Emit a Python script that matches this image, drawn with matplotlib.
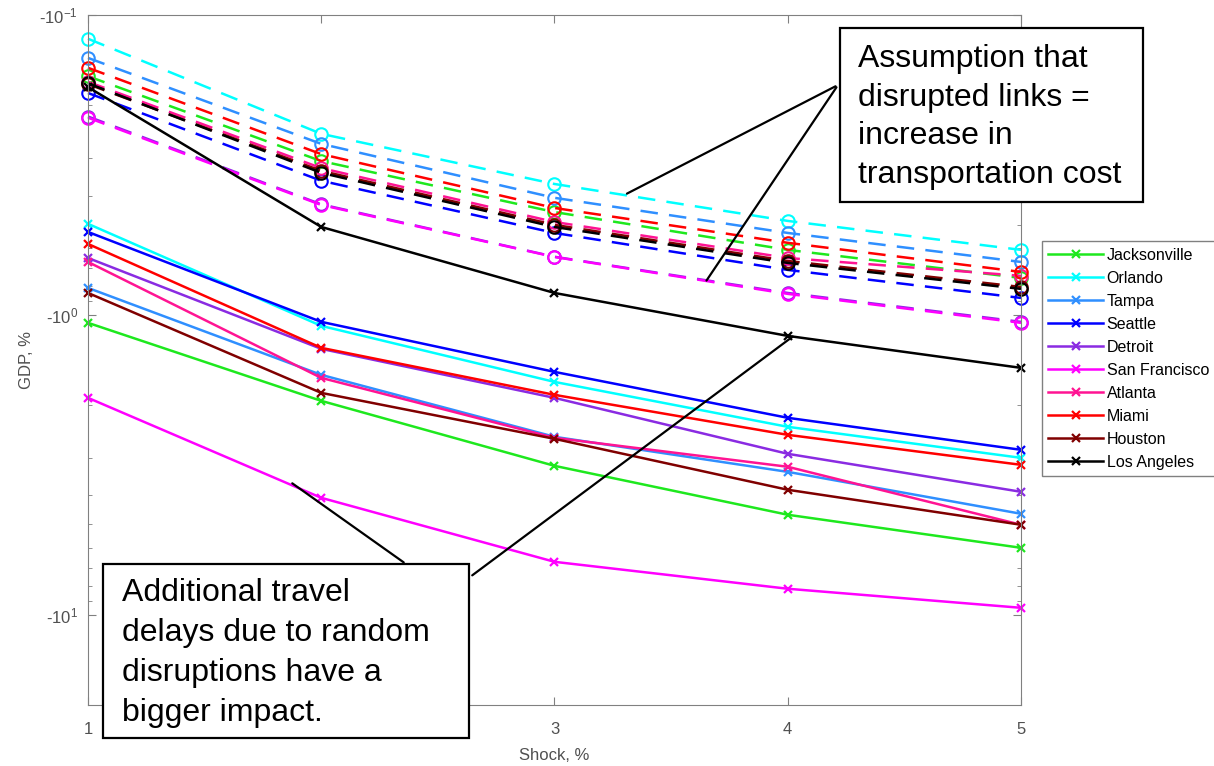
"""GDP loss vs. shock size for ten US cities, two cost assumptions
(dashed = disrupted links as transport cost, solid = random travel delays).
"""

import matplotlib

matplotlib.use("Agg")
import matplotlib.pyplot as plt
from matplotlib.patches import Rectangle
from matplotlib.ticker import FixedLocator, LogLocator, NullFormatter

plt.rcParams["font.family"] = ["Liberation Sans", "DejaVu Sans"]
plt.rcParams["mathtext.fontset"] = "custom"
plt.rcParams["mathtext.rm"] = "Liberation Sans"
plt.rcParams["mathtext.it"] = "Liberation Sans"

shock = [1, 2, 3, 4, 5]
cities = ["Jacksonville", "Orlando", "Tampa", "Seattle", "Detroit",
          "San Francisco", "Atlanta", "Miami", "Houston", "Los Angeles"]
ytick_vals = [0.1, 1, 10]
ytick_labels = ["-10$^{-1}$", "-10$^{0}$", "-10$^{1}$"]

# GDP loss magnitudes in % (plotted as -GDP on an inverted log axis)
delay_loss = {
    "Jacksonville": [1.063, 1.935, 3.187, 4.64, 5.98],
    "Orlando": [0.497, 1.088, 1.673, 2.362, 2.997],
    "Tampa": [0.813, 1.585, 2.55, 3.338, 4.605],
    "Seattle": [0.529, 1.055, 1.549, 2.204, 2.818],
    "Detroit": [0.646, 1.298, 1.891, 2.906, 3.89],
    "San Francisco": [1.891, 4.074, 6.66, 8.19, 9.48],
    "Atlanta": [0.666, 1.622, 2.57, 3.21, 5.01],
    "Miami": [0.580, 1.288, 1.848, 2.512, 3.162],
    "Houston": [0.845, 1.82, 2.59, 3.83, 5.01],
    "Los Angeles": [0.174, 0.509, 0.845, 1.175, 1.502],
}
cost_loss = {
    "Jacksonville": [0.160, 0.307, 0.454, 0.607, 0.753],
    "Orlando": [0.120, 0.249, 0.366, 0.486, 0.607],
    "Tampa": [0.139, 0.269, 0.407, 0.533, 0.666],
    "Seattle": [0.182, 0.357, 0.533, 0.708, 0.878],
    "Detroit": [0.218, 0.428, 0.640, 0.845, 1.055],
    "San Francisco": [0.220, 0.430, 0.641, 0.851, 1.063],
    "Atlanta": [0.167, 0.324, 0.490, 0.646, 0.741],
    "Miami": [0.150, 0.291, 0.440, 0.575, 0.719],
    "Houston": [0.170, 0.331, 0.501, 0.661, 0.807],
    "Los Angeles": [0.169, 0.336, 0.509, 0.671, 0.819],
}

colors = {
    "Jacksonville": "#1ee81e", "Orlando": "#00ffff", "Tampa": "#2f8fff",
    "Seattle": "#0000ff", "Detroit": "#8a2be2", "San Francisco": "#ff00ff",
    "Atlanta": "#ff1493", "Miami": "#ff0000", "Houston": "#800000",
    "Los Angeles": "#000000",
}

GRAY = "#808080"
TXT = "#505050"

fig = plt.figure(figsize=(12.14, 7.66), dpi=100)
ax = fig.add_axes([0.0725, 0.0796, 0.7685, 0.9008])

for city in cities:
    ax.plot(shock, cost_loss[city], linestyle=(0, (7, 4.5)), color=colors[city],
            lw=1.8, marker="o", ms=9, mfc="none", mew=1.5, clip_on=False)
handles = []
for city in cities:
    (h,) = ax.plot(shock, delay_loss[city], "-", color=colors[city], lw=1.8,
                   marker="x", ms=6, mew=1.6, clip_on=False, label=city)
    handles.append(h)

ax.set_yscale("log")
ax.set_ylim(20, 0.1)
ax.set_xlim(1, 5)
ax.set_xticks(shock)
ax.yaxis.set_major_locator(FixedLocator(ytick_vals))
ax.set_yticklabels(ytick_labels)
ax.yaxis.set_minor_locator(LogLocator(base=10, subs=range(2, 10)))
ax.yaxis.set_minor_formatter(NullFormatter())

for s in ax.spines.values():
    s.set_color(GRAY)
ax.tick_params(which="both", direction="in", top=True, right=True,
               color=GRAY, labelcolor=TXT, labelsize=12)
ax.tick_params(which="major", length=6, pad=7)
ax.tick_params(axis="x", which="major", pad=12)
ax.tick_params(which="minor", length=3)
ax.set_xlabel("Shock, %", fontsize=12, color=TXT, labelpad=8)
ax.set_ylabel("GDP, %", fontsize=12, color=TXT, labelpad=4)

fig.legend(handles=handles, loc="upper left", bbox_to_anchor=(0.8583, 0.685),
           borderaxespad=0, fontsize=11.5, handlelength=3.4, handletextpad=0.25,
           labelspacing=0.5, fancybox=False, edgecolor=GRAY, framealpha=1,
           borderpad=0.4)

# callout boxes in figure pixels -> fractions
W, H = 1214, 766


def fx(px):
    return px / W


def fy(py):
    return 1 - py / H


arrow = dict(arrowstyle="-", color="black", lw=1.6)
ax.annotate("", xy=(3.30, 0.398), xycoords="data",
            xytext=(fx(838), fy(85)), textcoords="figure fraction",
            arrowprops=arrow, annotation_clip=False)
ax.annotate("", xy=(3.645, 0.782), xycoords="data",
            xytext=(fx(838), fy(85)), textcoords="figure fraction",
            arrowprops=arrow, annotation_clip=False)
ax.annotate("", xy=(1.866, 3.60), xycoords="data",
            xytext=(fx(406), fy(564)), textcoords="figure fraction",
            arrowprops=arrow, annotation_clip=False)
ax.annotate("", xy=(4.031, 1.166), xycoords="data",
            xytext=(fx(470), fy(577)), textcoords="figure fraction",
            arrowprops=arrow, annotation_clip=False)

for x0, y0, x1, y1 in [(840, 28, 1143, 202), (103, 564, 469, 738)]:
    fig.patches.append(Rectangle((fx(x0), fy(y1)), fx(x1) - fx(x0), fy(y0) - fy(y1),
                                 transform=fig.transFigure, facecolor="white",
                                 edgecolor="black", lw=1.6, zorder=3))

fig.text(fx(858), fy(117), "Assumption that\ndisrupted links =\nincrease in\ntransportation cost",
         ha="left", va="center", fontsize=23, linespacing=1.38, zorder=4)
fig.text(fx(122), fy(653), "Additional travel\ndelays due to random\ndisruptions have a\nbigger impact.",
         ha="left", va="center", fontsize=23, linespacing=1.43, zorder=4)

fig.savefig("out.png", dpi=100)
